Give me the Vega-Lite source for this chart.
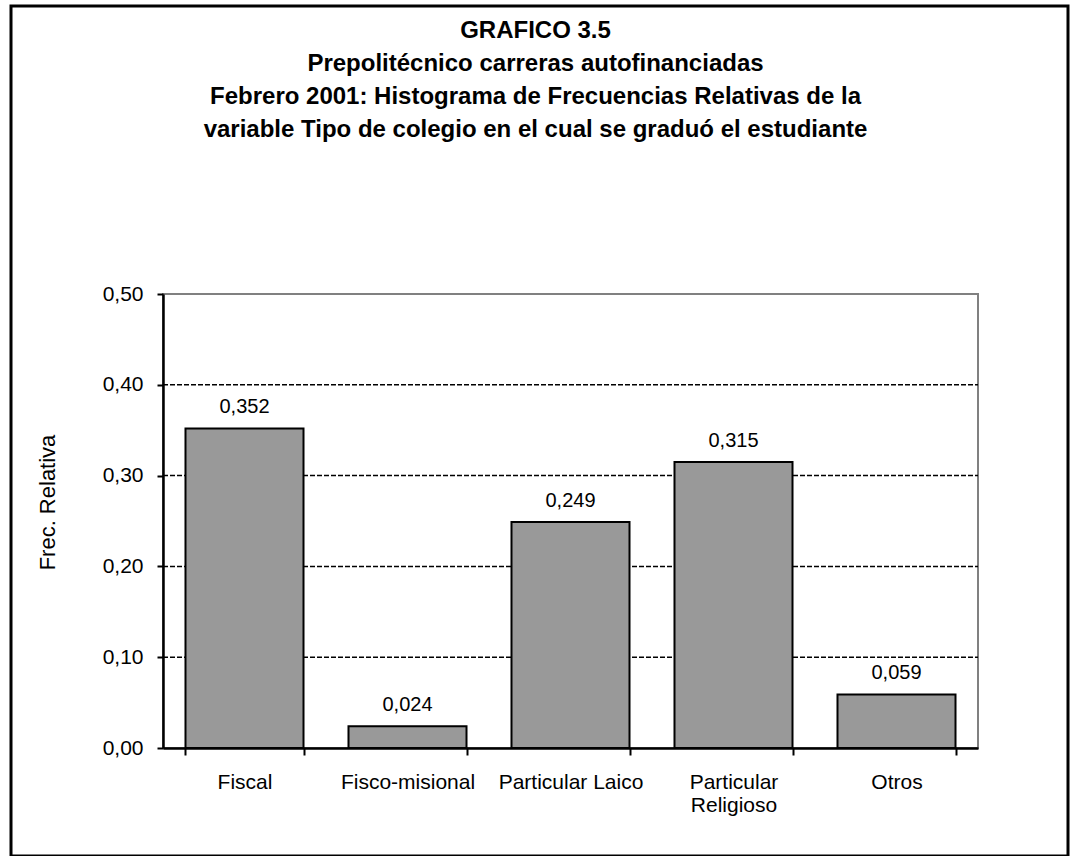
{
  "$schema": "https://vega.github.io/schema/vega-lite/v6.json",
  "autosize": "none",
  "padding": {"left": 11, "top": 6, "right": 2, "bottom": 0},
  "width": 1057,
  "height": 850,
  "background": "white",
  "config": {
    "locale": {"number": {"decimal": ",", "thousands": ".", "grouping": [3], "currency": ["", ""]}},
    "view": {"stroke": "black", "strokeWidth": 3},
    "font": "Liberation Sans"
  },
  "title": {
    "text": ["GRAFICO 3.5", "Prepolitécnico carreras autofinanciadas", "Febrero 2001: Histograma de Frecuencias Relativas de la", "variable Tipo de colegio en el cual se graduó el estudiante"],
    "fontSize": 24,
    "fontWeight": "bold",
    "font": "Liberation Sans",
    "color": "black",
    "lineHeight": 33,
    "anchor": "middle",
    "frame": "group",
    "baseline": "bottom",
    "offset": -160,
    "dx": -4
  },
  "datasets": {
    "bars": [
      {"tipo": "Fiscal", "frec": 0.352},
      {"tipo": "Fisco-misional", "frec": 0.024},
      {"tipo": "Particular Laico", "frec": 0.249},
      {"tipo": "Particular Religioso", "frec": 0.315},
      {"tipo": "Otros", "frec": 0.059}
    ],
    "grid": [{"frec": 0.1}, {"frec": 0.2}, {"frec": 0.3}, {"frec": 0.4}],
    "frame": [{"frec": 0, "frec_top": 0.5}]
  },
  "encoding": {
    "y": {
      "field": "frec", "type": "quantitative",
      "scale": {"domain": [0, 0.5], "range": [742, 288], "nice": false, "zero": false},
      "axis": {
        "orient": "left", "offset": -152,
        "values": [0, 0.1, 0.2, 0.3, 0.4, 0.5], "format": ".2f", "grid": false,
        "domainColor": "black", "domainWidth": 2.5,
        "tickColor": "black", "tickWidth": 2, "tickSize": 6,
        "labelFontSize": 21, "labelColor": "black", "labelPadding": 14,
        "title": "Frec. Relativa", "titleFontSize": 22, "titleFontWeight": "normal", "titleColor": "black",
        "titlePadding": 43, "titleY": 496, "zindex": 1
      }
    }
  },
  "resolve": {"scale": {"x": "independent"}, "axis": {"x": "independent"}},
  "layer": [
    {
      "data": {"name": "frame"},
      "mark": {"type": "rect", "fill": "white", "fillOpacity": 0, "stroke": "#808080", "strokeWidth": 2},
      "encoding": {
        "x": {"datum": 0, "type": "quantitative", "scale": {"domain": [0, 1], "range": [152, 967]}, "axis": null},
        "x2": {"datum": 1},
        "y2": {"field": "frec_top"}
      }
    },
    {
      "data": {"name": "grid"},
      "mark": {"type": "rule", "color": "black", "strokeWidth": 1.5, "strokeDash": [5, 2]},
      "encoding": {
        "x": {"datum": 0, "type": "quantitative", "scale": {"domain": [0, 1], "range": [152, 967]}, "axis": null},
        "x2": {"datum": 1}
      }
    },
    {
      "data": {"name": "bars"},
      "mark": {"type": "bar", "fill": "#999999", "stroke": "black", "strokeWidth": 2},
      "encoding": {
        "x": {
          "field": "tipo", "type": "nominal", "sort": null,
          "scale": {"range": [152, 967], "paddingInner": 0.276, "paddingOuter": 0.138},
          "axis": {
            "orient": "bottom", "offset": -108, "tickBand": "extent",
            "domainColor": "black", "domainWidth": 2.5,
            "tickColor": "black", "tickWidth": 2, "tickSize": 7,
            "labelFontSize": 21, "labelColor": "black", "labelPadding": 16, "labelAngle": 0,
            "labelExpr": "datum.label == 'Particular Religioso' ? ['Particular', 'Religioso'] : datum.label",
            "labelLineHeight": 23, "labelLimit": 300,
            "title": null, "zindex": 1
          }
        }
      }
    },
    {
      "data": {"name": "bars"},
      "mark": {"type": "text", "baseline": "bottom", "dy": -11, "fontSize": 20, "color": "black"},
      "encoding": {
        "x": {
          "field": "tipo", "type": "nominal", "sort": null,
          "scale": {"range": [152, 967], "paddingInner": 0.276, "paddingOuter": 0.138},
          "axis": null
        },
        "text": {"field": "frec", "type": "quantitative", "format": ".3f"}
      }
    }
  ]
}
